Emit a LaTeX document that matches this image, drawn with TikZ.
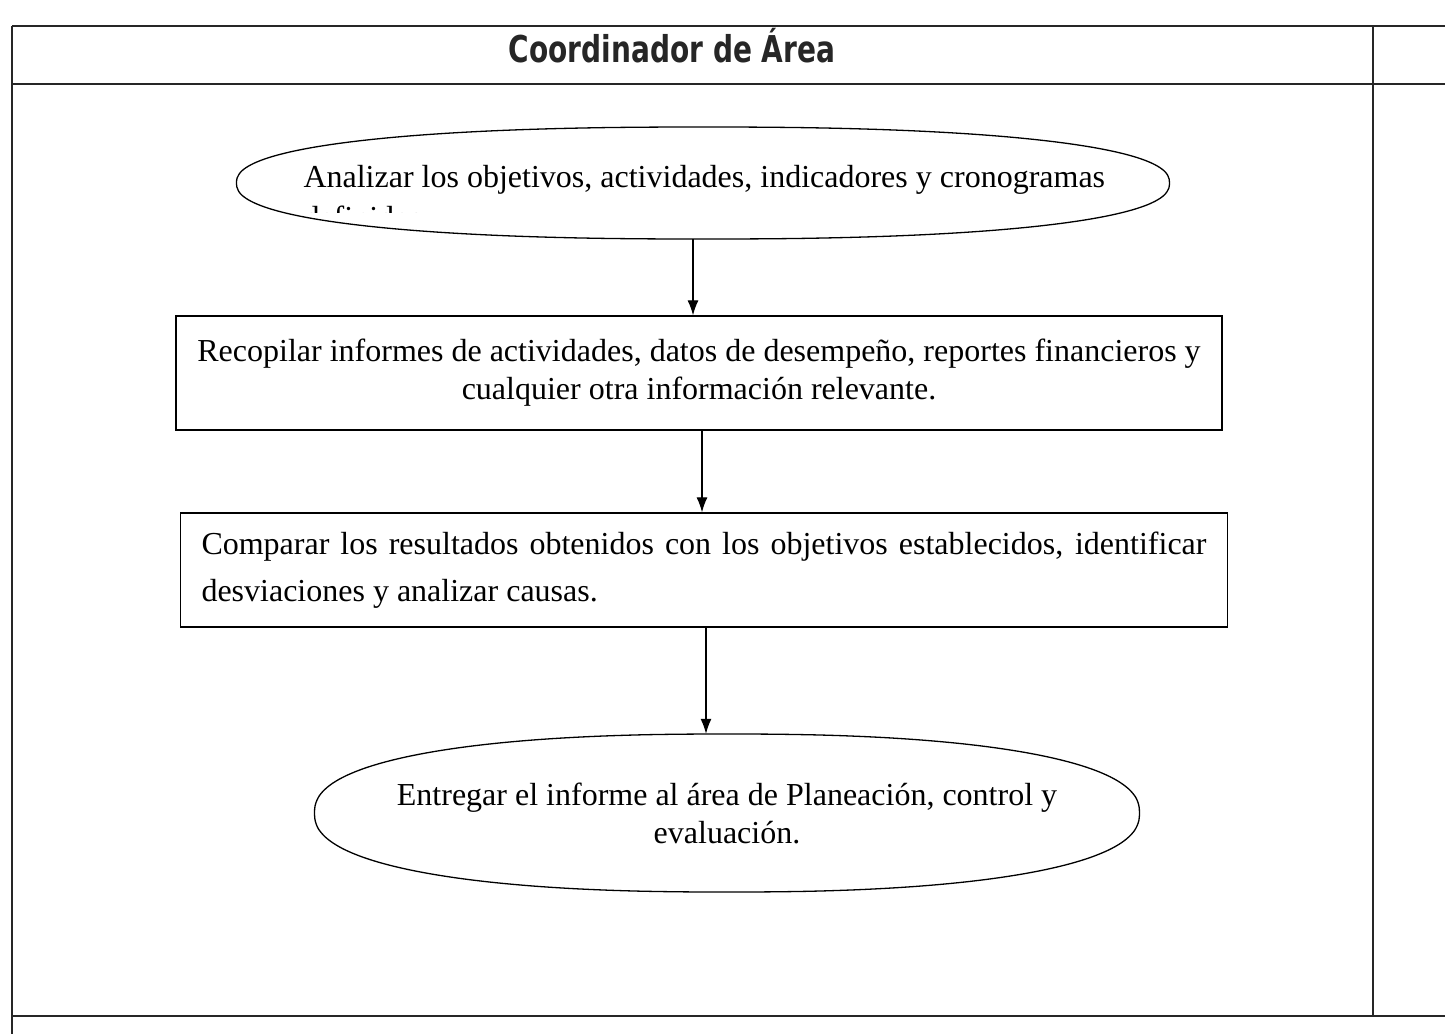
\documentclass[tikz,border=0pt]{standalone}
\usepackage{fontspec}
\setmainfont{Liberation Serif}
\newfontfamily\titlefont{DejaVu Sans}
\usetikzlibrary{shapes.geometric,arrows.meta}
\tikzset{
  frameline/.style={line width=1.7pt, black!85},
  procbox/.style={draw, line width=1.3pt, rectangle, minimum width=1046pt, minimum height=114pt, inner sep=0pt},
  termnode/.style={draw=none, ellipse, inner sep=0pt},
  termline/.style={line width=1.3pt},
  flowarrow/.style={line width=1.2pt, -{Latex[length=15pt,width=11pt]}},
  bodytext/.style={font=\fontsize{32}{38}\selectfont, align=center}
}
\begin{document}
\begin{tikzpicture}[x=1pt,y=-1pt]
\useasboundingbox (0,0) rectangle (1445,1034);
\fill[white] (0,0) rectangle (1445,1034);
% frame
\coordinate (tl) at (12,26);
\coordinate (tr) at (1445,26);
\coordinate (hl) at (12,84);
\coordinate (hr) at (1445,84);
\coordinate (bl) at (12,1016);
\coordinate (br) at (1445,1016);
\coordinate (lt) at (12,26);
\coordinate (lb) at (12,1034);
\coordinate (rt) at (1373,26);
\coordinate (rb) at (1373,1016);
\draw[frameline] (tl) -- (tr);
\draw[frameline] (hl) -- (hr);
\draw[frameline] (bl) -- (br);
\draw[frameline, line width=1.1pt] (lt) -- (lb);
\draw[frameline, line width=1.3pt] (rt) -- (rb);
\node[font=\titlefont\bfseries\fontsize{28}{30}\selectfont, text=black!85] (title) at (672,46) {\scalebox{1}[1.32]{Coordinador de Área}};
% nodes
\node[termnode, minimum width=933pt, minimum height=112pt] (n1) at (703,183) {};
\draw[termline, shift={(n1.center)}] plot[domain=0.5:360.5, samples=121, smooth cycle] ({466.5*sign(cos(\x))*abs(cos(\x))^0.85}, {56*sign(sin(\x))*abs(sin(\x))^0.85});
\node[bodytext, anchor=base west] (t1) at (300,187) {Analizar los objetivos, actividades, indicadores y cronogramas};
\begin{scope}
\clip (250,140) rectangle (1160,212);
\node[bodytext, anchor=base west] (t1b) at (300,228) {definidos.};
\end{scope}
\node[procbox, bodytext] (n2) at (699,373) {Recopilar informes de actividades, datos de desempeño, reportes financieros y\\cualquier otra información relevante.};
\node[procbox, minimum width=1047pt] (n3) at (704,570) {};
\node[text width=1005pt, align=justify, font=\fontsize{32}{47}\selectfont, inner sep=0pt] (t3) at (n3.center) {Comparar los resultados obtenidos con los objetivos establecidos, identificar desviaciones y analizar causas.};
\node[termnode, minimum width=825pt, minimum height=158pt] (n4) at (727,813) {};
\draw[termline, shift={(n4.center)}] plot[domain=0.5:360.5, samples=121, smooth cycle] ({412.5*sign(cos(\x))*abs(cos(\x))^0.85}, {79*sign(sin(\x))*abs(sin(\x))^0.85});
\node[bodytext] (t4) at (n4.center) {Entregar el informe al área de Planeación, control y\\evaluación.};
% connectors
\draw[flowarrow] ([xshift=-10pt]n1.south) -- ([xshift=-10pt]n1.south |- n2.north);
\draw[flowarrow] ([xshift=3pt]n2.south) -- ([xshift=3pt]n2.south |- n3.north);
\draw[flowarrow] ([xshift=2pt]n3.south) -- ([xshift=2pt]n3.south |- n4.north);
\end{tikzpicture}
\end{document}
